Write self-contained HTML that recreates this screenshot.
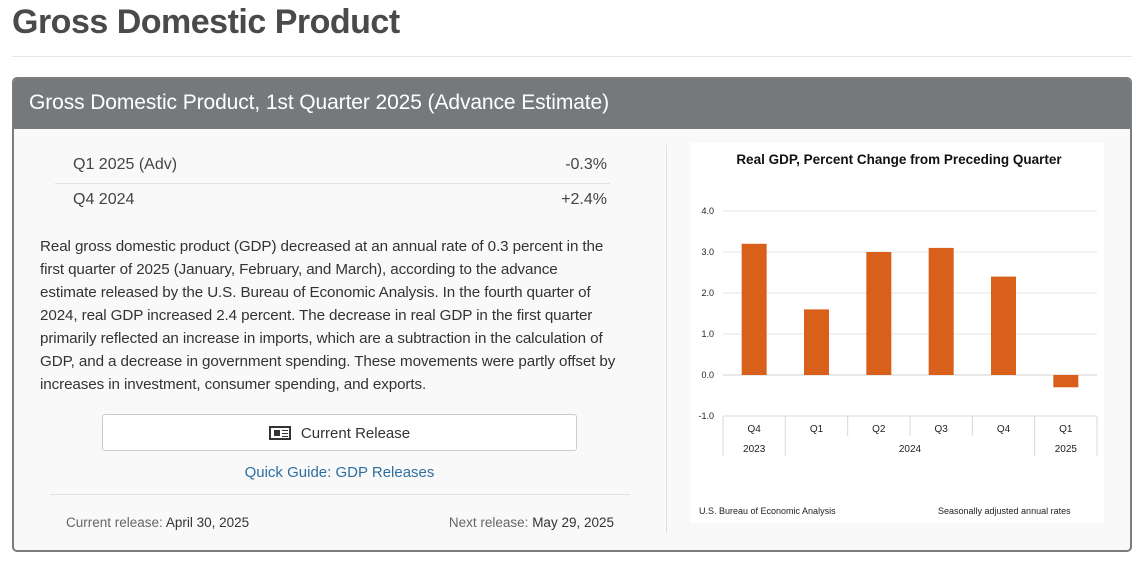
<!DOCTYPE html>
<html><head><meta charset="utf-8"><style>
body{margin:0;width:1139px;height:565px;background:#fff;font-family:"Liberation Sans",sans-serif;position:relative;overflow:hidden;color:#333}
.a{position:absolute;white-space:nowrap}
</style></head><body>
<div class="a" style="left:12px;top:3px;font-size:34px;font-weight:bold;color:#4a4a4a;letter-spacing:-0.5px">Gross Domestic Product</div>
<div class="a" style="left:12px;top:56px;width:1120px;height:1px;background:#e6e6e6"></div>
<div class="a" style="left:12px;top:77px;width:1116px;height:471px;border:2px solid #7a7c7e;border-radius:5px;background:#f9f9f9;overflow:hidden">
 <div class="a" style="left:0;top:0;width:1116px;height:50px;background:#76797b"></div>
 <div class="a" style="left:15px;top:12px;font-size:21px;color:#fff;letter-spacing:-0.1px">Gross Domestic Product, 1st Quarter 2025 (Advance Estimate)</div>
</div>
<div class="a" style="left:73px;top:156px;font-size:16px;color:#444">Q1 2025 (Adv)</div>
<div class="a" style="left:540px;width:67px;text-align:right;top:156px;font-size:16px;color:#444">-0.3%</div>
<div class="a" style="left:55px;top:183px;width:555px;height:1px;background:#e2e2e2"></div>
<div class="a" style="left:73px;top:191px;font-size:16px;color:#444">Q4 2024</div>
<div class="a" style="left:540px;width:67px;text-align:right;top:191px;font-size:16px;color:#444">+2.4%</div>
<div class="a" style="left:40px;top:235px;font-size:15.2px;line-height:23px;color:#333;letter-spacing:-0.1px">Real gross domestic product (GDP) decreased at an annual rate of 0.3 percent in the<br>first quarter of 2025 (January, February, and March), according to the advance<br>estimate released by the U.S. Bureau of Economic Analysis. In the fourth quarter of<br>2024, real GDP increased 2.4 percent. The decrease in real GDP in the first quarter<br>primarily reflected an increase in imports, which are a subtraction in the calculation of<br>GDP, and a decrease in government spending. These movements were partly offset by<br>increases in investment, consumer spending, and exports.</div>
<div class="a" style="left:102px;top:414px;width:473px;height:35px;border:1px solid #ccc;border-radius:3px;background:#fff;text-align:center;line-height:37px;font-size:15px;color:#333"><span style="display:inline-block;width:22px;height:14px;border:2px solid #333;box-sizing:border-box;vertical-align:-2px;margin-right:10px;background:linear-gradient(#333,#333) 3px 2px/6px 6px no-repeat,linear-gradient(#333,#333) 11px 2px/6px 1px no-repeat,linear-gradient(#333,#333) 11px 5px/6px 1px no-repeat,linear-gradient(#333,#333) 11px 8px/6px 1px no-repeat"></span>Current Release</div>
<div class="a" style="left:102px;width:475px;text-align:center;top:464px;font-size:15px;color:#2f6f9f">Quick Guide: GDP Releases</div>
<div class="a" style="left:50px;top:494px;width:580px;height:1px;background:#e2e2e2"></div>
<div class="a" style="left:66px;top:515px;font-size:13.5px;color:#666">Current release: <span style="color:#333">April 30, 2025</span></div>
<div class="a" style="left:400px;width:214px;text-align:right;top:515px;font-size:13.5px;color:#666">Next release: <span style="color:#333">May 29, 2025</span></div>
<div class="a" style="left:666px;top:145px;width:1px;height:388px;background:#e0e0e0"></div>
<svg class="a" style="left:690px;top:143px" width="414" height="380" viewBox="690 143 414 380">
<rect x="690" y="143" width="414" height="380" fill="#fff"/>
<text x="899" y="164" text-anchor="middle" font-size="13.5" font-weight="bold" fill="#111" font-family="Liberation Sans, sans-serif">Real GDP, Percent Change from Preceding Quarter</text>
<g id="plot"></g>
<text x="699" y="514" font-size="9" fill="#222" font-family="Liberation Sans, sans-serif">U.S. Bureau of Economic Analysis</text>
<text x="938" y="514" font-size="9" fill="#222" font-family="Liberation Sans, sans-serif">Seasonally adjusted annual rates</text>
</svg>
<script>
const categories=["Q4","Q1","Q2","Q3","Q4","Q1"];
const values=[3.2,1.6,3.0,3.1,2.4,-0.3];
const yTicks=[4.0,3.0,2.0,1.0,0.0,-1.0];
const years=[{label:"2023",start:0,end:1},{label:"2024",start:1,end:5},{label:"2025",start:5,end:6}];
const NS="http://www.w3.org/2000/svg";
const g=document.getElementById('plot');
const x0=723,x1=1097,n=categories.length,cw=(x1-x0)/n;
function y(v){return 375-v*41;}
function xc(i){return x0+cw*(i+0.5);}
function mk(t,a){const e=document.createElementNS(NS,t);for(const k in a)e.setAttribute(k,a[k]);g.appendChild(e);return e;}
yTicks.forEach(t=>{
 if(t>-1){const l=mk('line',{x1:x0,x2:x1,y1:y(t),y2:y(t),stroke:t===0?'#d0d0d0':'#e4e4e4','stroke-width':1});
 
 }
 const tx=mk('text',{x:714,y:y(t)+3,'text-anchor':'end','font-size':9,fill:'#222','font-family':'Liberation Sans, sans-serif'});
 tx.textContent=t.toFixed(1);
 
 
});
values.forEach((v,i)=>{
 const r=mk('rect',{x:xc(i)-12.5,y:Math.min(y(v),y(0)),width:25,height:Math.abs(y(v)-y(0)),fill:'#d8601b'});
 
 
 const t=mk('text',{x:xc(i),y:432,'text-anchor':'middle','font-size':10,fill:'#222','font-family':'Liberation Sans, sans-serif'});
 t.textContent=categories[i];
 
 
});
mk('line',{x1:x0,x2:x1,y1:y(-1),y2:y(-1),stroke:'#d8d8d8'});
for(let i=0;i<=n;i++){
 const isYear=years.some(yr=>yr.start===i||yr.end===i);
 const l=mk('line',{x1:x0+cw*i,x2:x0+cw*i,y1:y(-1),y2:isYear?456:436,stroke:'#d8d8d8'});
 
 
}
years.forEach(yr=>{
 const t=mk('text',{x:x0+cw*(yr.start+yr.end)/2,y:452,'text-anchor':'middle','font-size':10,fill:'#222','font-family':'Liberation Sans, sans-serif'});
 t.textContent=yr.label;
 
 
});
</script>
</body></html>
